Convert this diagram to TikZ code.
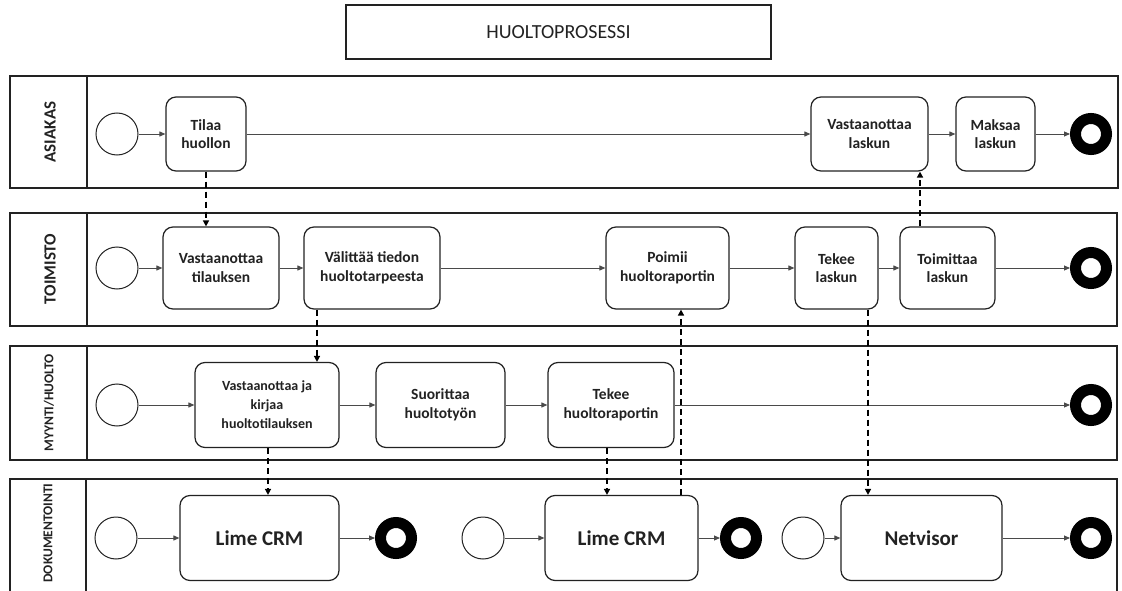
\documentclass[tikz,border=0pt]{standalone}
\usepackage{fontspec}
\setmainfont{Carlito}
\usetikzlibrary{arrows.meta,calc}
\definecolor{ink}{HTML}{222222}
\definecolor{flowgray}{HTML}{4A4A4A}

\begin{document}
\begin{tikzpicture}[x=1pt,y=-1pt,
  lane/.style={draw=ink,line width=1.5pt},
  lanelabel/.style={rotate=90,font=\bfseries\fontsize{17}{20}\selectfont,text=ink,inner sep=0pt},
  smalllabel/.style={lanelabel,font=\bfseries\fontsize{13.5}{16}\selectfont},
  task/.style={draw=ink,line width=1.2pt,rounded corners=10pt,fill=white,align=center,
    font=\bfseries\fontsize{15.5}{18.5}\selectfont,text=ink,inner sep=2pt},
  smalltask/.style={task,font=\bfseries\fontsize{14}{19}\selectfont},
  systask/.style={task,font=\bfseries\fontsize{21}{24}\selectfont},
  startev/.style={circle,draw=ink,line width=1pt,minimum size=42pt,inner sep=0pt,fill=white},
  endev/.style={circle,draw=black,line width=11pt,minimum size=31pt,inner sep=0pt,fill=white},
  flow/.style={draw=flowgray,line width=0.9pt,-{Triangle[length=6pt,width=5pt]}},
  msg/.style={draw=black,line width=1.6pt,dash pattern=on 6pt off 4pt,
    -{Triangle[length=6pt,width=6pt]}},
  titlebox/.style={draw=ink,line width=1.3pt,minimum width=425pt,minimum height=54pt,
    font=\fontsize{20}{24}\selectfont,text=ink}
]
\useasboundingbox (0,0) rectangle (1122,591);
\clip (0,0) rectangle (1122,591);

% title
\node[titlebox] (title) at (558.5,32) {HUOLTOPROSESSI};

% swimlanes
\draw[lane] (10,76) rectangle (1118,188) (87,76) -- (87,188);
\draw[lane] (10,213) rectangle (1117,326) (87,213) -- (87,326);
\draw[lane] (10,346) rectangle (1117,460) (87,346) -- (87,460);
\draw[lane] (10,600) -- (10,479) -- (1117,479) -- (1117,600) (86,479) -- (86,600);

\node[lanelabel] (lA) at (50,132) {ASIAKAS};
\node[lanelabel] (lT) at (50,269) {TOIMISTO};
\node[smalllabel] (lM) at (49,403) {MYYNTI/HUOLTO};
\node[smalllabel] (lD) at (48,533) {DOKUMENTOINTI};

% ASIAKAS
\node[startev] (aS) at (117,134) {};
\node[task,minimum width=80pt,minimum height=74pt] (tilaa) at (206,134) {Tilaa\\huollon};
\node[task,minimum width=117pt,minimum height=74pt] (vlas) at (869.5,134) {Vastaanottaa\\laskun};
\node[task,minimum width=79pt,minimum height=74pt] (maks) at (995.5,134) {Maksaa\\laskun};
\node[endev] (aE) at (1091,134) {};

% TOIMISTO
\node[startev] (tS) at (117,268) {};
\node[task,minimum width=116pt,minimum height=82pt] (vtil) at (221,268) {Vastaanottaa\\tilauksen};
\node[task,minimum width=136pt,minimum height=82pt] (valit) at (372,268) {Välittää tiedon\\huoltotarpeesta};
\node[task,minimum width=123pt,minimum height=82pt] (poimii) at (667.5,268) {Poimii\\huoltoraportin};
\node[task,minimum width=83pt,minimum height=82pt] (tlas) at (836.5,268) {Tekee\\laskun};
\node[task,minimum width=95pt,minimum height=82pt] (toim) at (947.5,268) {Toimittaa\\laskun};
\node[endev] (tE) at (1091,268) {};

% MYYNTI/HUOLTO
\node[startev] (mS) at (117,405) {};
\node[smalltask,minimum width=144pt,minimum height=85pt] (vjk) at (267,405) {Vastaanottaa ja\\kirjaa\\huoltotilauksen};
\node[task,minimum width=129pt,minimum height=85pt] (suor) at (440.5,405) {Suorittaa\\huoltotyön};
\node[task,minimum width=126pt,minimum height=85pt] (thr) at (611,405) {Tekee\\huoltoraportin};
\node[endev] (mE) at (1091,405) {};

% DOKUMENTOINTI
\node[startev] (dS1) at (116,538) {};
\node[systask,minimum width=159pt,minimum height=85pt] (lime1) at (259.5,538) {Lime CRM};
\node[endev] (dE1) at (396,538) {};
\node[startev] (dS2) at (483,538) {};
\node[systask,minimum width=153pt,minimum height=85pt] (lime2) at (621.5,538) {Lime CRM};
\node[endev] (dE2) at (741,538) {};
\node[startev] (dS3) at (803,538) {};
\node[systask,minimum width=161pt,minimum height=85pt] (netv) at (921.5,538) {Netvisor};
\node[endev] (dE3) at (1091,538) {};

% sequence flows
\draw[flow] (aS) -- (tilaa);
\draw[flow] (tilaa) -- (vlas);
\draw[flow] (vlas) -- (maks);
\draw[flow] (maks) -- (aE);

\draw[flow] (tS) -- (vtil);
\draw[flow] (vtil) -- (valit);
\draw[flow] (valit) -- (poimii);
\draw[flow] (poimii) -- (tlas);
\draw[flow] (tlas) -- (toim);
\draw[flow] (toim) -- (tE);

\draw[flow] (mS) -- (vjk);
\draw[flow] (vjk) -- (suor);
\draw[flow] (suor) -- (thr);
\draw[flow] (thr) -- (mE);

\draw[flow] (dS1) -- (lime1);
\draw[flow] (lime1) -- (dE1);
\draw[flow] (dS2) -- (lime2);
\draw[flow] (lime2) -- (dE2);
\draw[flow] (dS3) -- (netv);
\draw[flow] (netv) -- (dE3);

% message flows
\draw[msg] (tilaa.south) -- (tilaa.south |- vtil.north);
\draw[msg] ([xshift=-27.5pt]toim.north) coordinate (m1) -- (m1 |- vlas.south);
\draw[msg] ([xshift=-55pt]valit.south) coordinate (m2) -- (m2 |- vjk.north);
\draw[msg] ([xshift=1pt]vjk.south) coordinate (m3) -- (m3 |- lime1.north);
\draw[msg] ([xshift=-4pt]thr.south) coordinate (m4) -- (m4 |- lime2.north);
\draw[msg] ([xshift=59.5pt]lime2.north) coordinate (m5) -- (m5 |- poimii.south);
\draw[msg] ([xshift=31.5pt]tlas.south) coordinate (m6) -- (m6 |- netv.north);
\end{tikzpicture}
\end{document}
